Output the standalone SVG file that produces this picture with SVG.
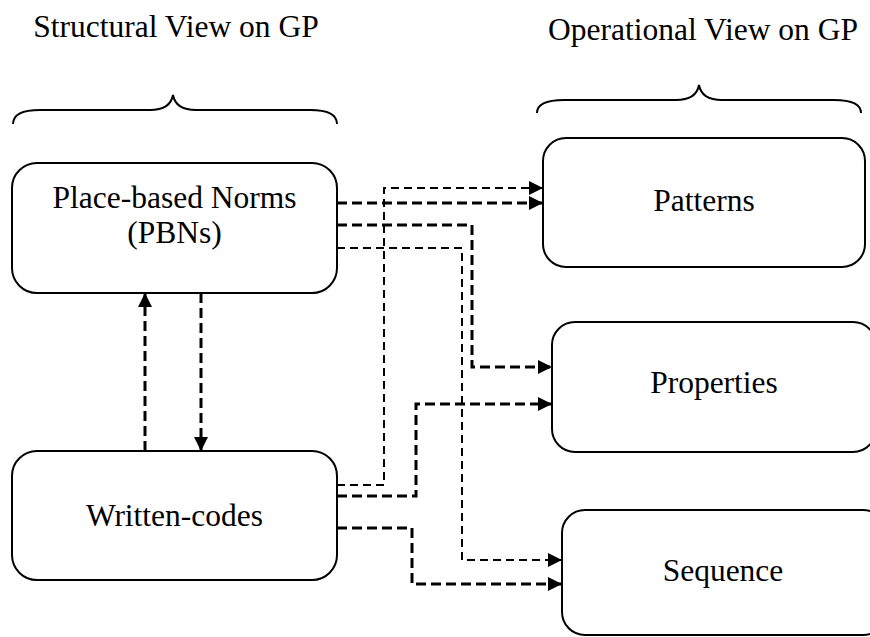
<svg xmlns="http://www.w3.org/2000/svg" width="870" height="637" viewBox="0 0 870 637">
  <style>
    text { font-family: "Liberation Serif", "Times New Roman", serif; font-size: 31.5px; fill: #000; text-anchor: middle; }
    .box { fill: #fff; stroke: #000; stroke-width: 2; }
    .brace { fill: none; stroke: #000; stroke-width: 2; }
    .link { fill: none; stroke: #000; stroke-linejoin: miter; }
    .thick { stroke-width: 3; stroke-dasharray: 10 5; }
    .thin { stroke-width: 2; stroke-dasharray: 8 5; }
  </style>
  <defs>
    <marker id="arrow" viewBox="0 0 14 14" refX="14" refY="7" markerWidth="14" markerHeight="14" markerUnits="userSpaceOnUse" orient="auto">
      <path d="M0,0 L14,7 L0,14 Z" fill="#000"/>
    </marker>
  </defs>

  <rect width="870" height="637" fill="#fff"/>

  <!-- column headings with braces -->
  <g id="structural-heading">
    <text x="176" y="37">Structural View on GP</text>
    <path class="brace" d="M13,124 C13,114 22,110 40,110 L150,110 C163,110 171,106 173,95 C175,106 183,110 196,110 L310,110 C328,110 337,114 337,124"/>
  </g>
  <g id="operational-heading">
    <text x="703" y="40">Operational View on GP</text>
    <path class="brace" d="M537,113 C537,104 546,100 564,100 L676,100 C689,100 697,96 699,85 C701,96 709,100 722,100 L834,100 C852,100 861,104 861,113"/>
  </g>

  <!-- structural nodes -->
  <g id="pbn">
    <rect class="box" x="12" y="163" width="325" height="130" rx="25" ry="25"/>
    <text x="174.5" y="208">Place-based Norms</text>
    <text x="174.5" y="243">(PBNs)</text>
  </g>
  <g id="written-codes">
    <rect class="box" x="12" y="451" width="325" height="129" rx="25" ry="25"/>
    <text x="174.5" y="526">Written-codes</text>
  </g>

  <!-- operational nodes -->
  <g id="patterns">
    <rect class="box" x="543" y="138" width="322" height="129" rx="23" ry="23"/>
    <text x="704" y="211">Patterns</text>
  </g>
  <g id="properties">
    <rect class="box" x="552" y="322" width="324" height="130" rx="23" ry="23"/>
    <text x="714" y="393">Properties</text>
  </g>
  <g id="sequence">
    <rect class="box" x="562" y="510" width="324" height="125" rx="23" ry="23"/>
    <text x="723" y="581">Sequence</text>
  </g>

  <!-- connectors -->
  <g id="connectors">
    <path class="link thick" d="M337,203 L543,203" marker-end="url(#arrow)"/>
    <path class="link thin" d="M337,485 L384,485 L384,188 L543,188" marker-end="url(#arrow)"/>
    <path class="link thick" d="M337,225 L472,225 L472,367 L552,367" marker-end="url(#arrow)"/>
    <path class="link thin" d="M337,248 L462,248 L462,560 L562,560" marker-end="url(#arrow)"/>
    <path class="link thick" d="M337,496 L416,496 L416,404 L552,404" marker-end="url(#arrow)"/>
    <path class="link thick" d="M337,528 L412,528 L412,584 L562,584" marker-end="url(#arrow)"/>
    <path class="link thick" d="M145,451 L145,293" marker-end="url(#arrow)"/>
    <path class="link thick" d="M201,293 L201,451" marker-end="url(#arrow)"/>
  </g>
</svg>
